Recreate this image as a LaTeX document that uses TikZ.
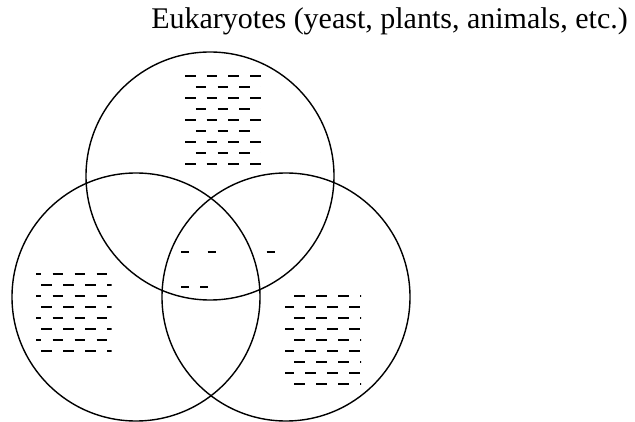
\documentclass[tikz,border=0pt]{standalone}
\usepackage{fontspec}
\setmainfont{Liberation Serif}
\begin{document}
\begin{tikzpicture}[x=1pt,y=-1pt,
  ring/.style={circle,draw,line width=1.4pt,minimum size=248pt,inner sep=0pt},
  dsh/.style={line width=1.8pt}]
\useasboundingbox (0,0) rectangle (635,422);
\node[ring] (top) at (210,176) {};
\node[ring] (left) at (136,297) {};
\node[ring] (right) at (286,297) {};
\node[anchor=base east,font=\fontsize{30}{36}\selectfont,inner sep=0pt] (title) at (628,29) {Eukaryotes (yeast, plants, animals, etc.)};
% top block
\begin{scope}
\clip (184,60) rectangle (260.8,170);
\foreach \r in {0,...,8}{
  \pgfmathsetmacro\yy{75.7+11.04*\r}
  \pgfmathsetmacro\oo{mod(\r,2)*10.85}
  \foreach \k in {0,...,3}
    \draw[dsh] ({185+\oo+21.7*\k},\yy) -- ++(10.5,0);
}
\end{scope}
% left block
\begin{scope}
\clip (36,260) rectangle (111.7,360);
\foreach \r in {0,...,7}{
  \pgfmathsetmacro\yy{274+11*\r}
  \pgfmathsetmacro\oo{mod(\r,2)*10.8}
  \foreach \k in {0,...,4}
    \draw[dsh] ({30.5+\oo+22*\k},\yy) -- ++(10.7,0);
}
\end{scope}
% right block
\begin{scope}
\clip (285,285) rectangle (361,395);
\foreach \r in {0,...,8}{
  \pgfmathsetmacro\yy{295.7+11.04*\r}
  \pgfmathsetmacro\oo{mod(\r,2)*10.7}
  \foreach \k in {-1,...,3}
    \draw[dsh] ({294-\oo+22*\k},\yy) -- ++(10.7,0);
}
\end{scope}
% middle dashes
\draw[dsh] (181,251.7) -- ++(8.3,0);
\draw[dsh] (207.7,251.7) -- ++(8.3,0);
\draw[dsh] (266.7,251.7) -- ++(8.3,0);
\draw[dsh] (181,287) -- ++(8.3,0);
\draw[dsh] (200,287) -- ++(8.3,0);
\end{tikzpicture}
\end{document}
